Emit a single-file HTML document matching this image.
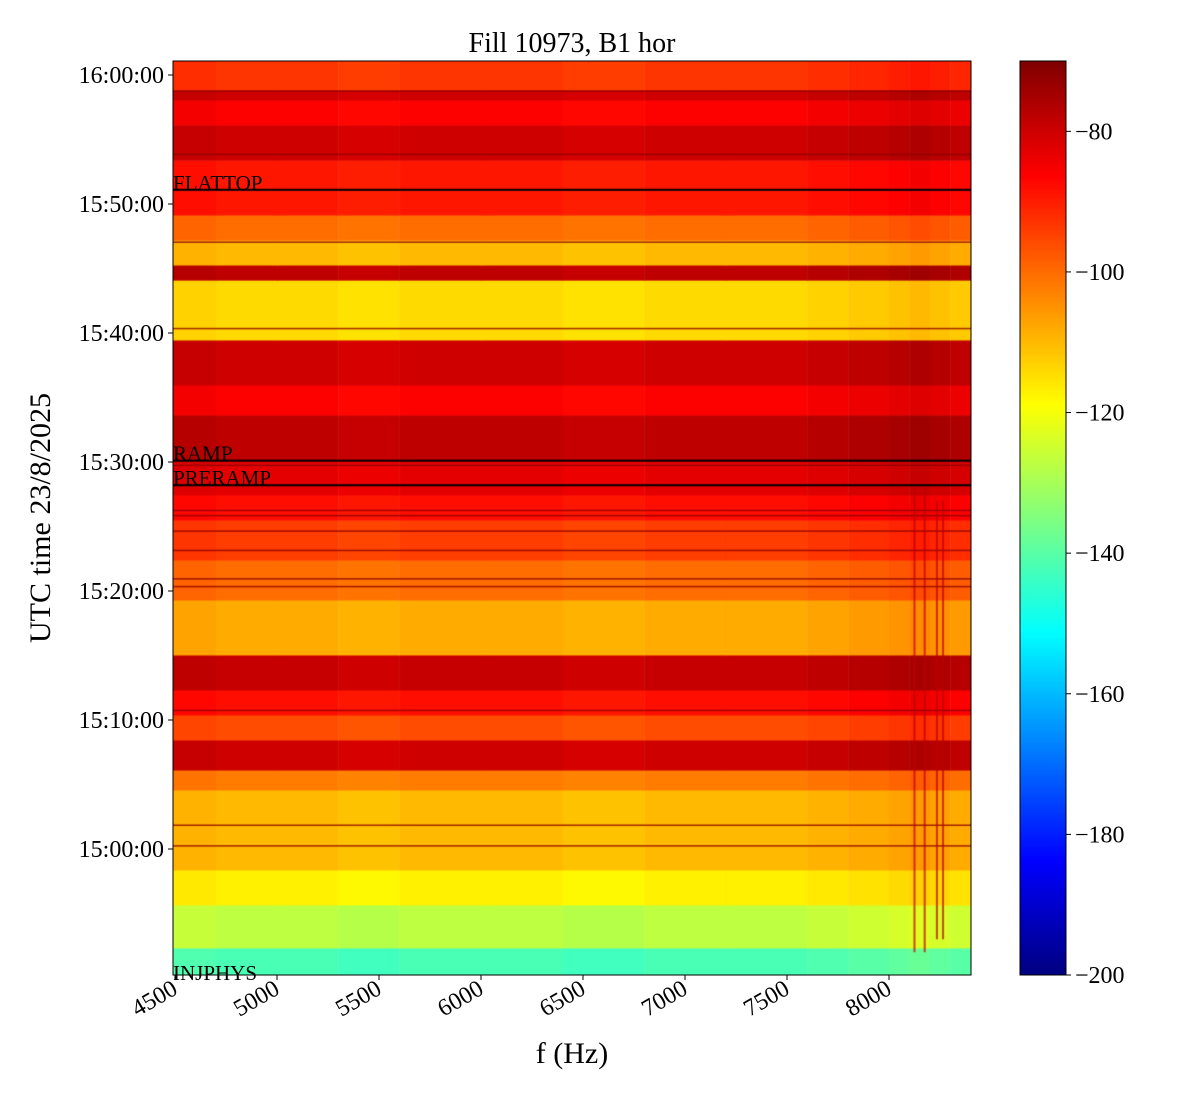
<!DOCTYPE html>
<html><head><meta charset="utf-8"><style>
body{margin:0;background:#fff;}
#wrap{position:relative;width:1200px;height:1100px;font-family:"Liberation Serif",serif;}
canvas{position:absolute;left:0;top:0;}
svg{position:absolute;left:0;top:0;}
</style></head><body>
<div id="wrap">
<canvas id="cv" width="1200" height="1100"></canvas>
<svg id="sv" width="1200" height="1100"></svg>
</div>
<script>
// ---- data ----
// bands: start/end time (minutes relative to 15:00:00) and level in dB
const bandStart = [-9.77,-7.67,-4.34,-1.63,4.57,6.12,8.45,10.39,12.33,15.04,19.3,22.4,25.5,27.44,30.16,33.64,35.97,39.46,44.1,45.27,47.2,49.15,53.4,56.12,58.06,58.84];
const bandEnd   = [-7.67,-4.34,-1.63,4.57,6.12,8.45,10.39,12.33,15.04,19.3,22.4,25.5,27.44,30.16,33.64,35.97,39.46,44.1,45.27,47.2,49.15,53.4,56.12,58.06,58.84,61.1];
const bandLevel = [-142,-127,-117,-110,-102,-80,-96,-88,-79,-108,-100,-94,-88,-83,-78,-86,-80,-114,-78,-110,-100,-89,-80,-86,-80,-93];
// column frequency segments (Hz) and offsets (dB)
const colFreq   = [4490,4700,5000,5300,5600,6000,6400,6800,7200,7600,7800,8000,8100,8200,8300,8402];
const colOffset = [1,0,0,-1,0,0,-1,0,0,1,2,3,4,3,2];
// marker lines (minutes) and labels
const markerTime  = [-9.7,28.2,30.1,51.1];
const markerLabel = ["INJPHYS","PRERAMP","RAMP","FLATTOP"];
// extra thin dark horizontal lines (minutes)
const lineTime = [0.3,1.9,10.8,20.4,21.0,23.2,24.7,25.9,26.3,29.8,40.4,47.1,53.9,58.8];
// vertical spectral lines (Hz, start min, end min)
const vFreq  = [8120,8170,8230,8260];
const vStart = [-8,-8,-7,-7];
const vEnd   = [28,28,27,27];
const xTicks = [4500,5000,5500,6000,6500,7000,7500,8000];
const yTicks = [0,10,20,30,40,50,60];
const yTickLabels = ["15:00:00","15:10:00","15:20:00","15:30:00","15:40:00","15:50:00","16:00:00"];
const cTicks = [-80,-100,-120,-140,-160,-180,-200];
// ---- axes ----
const X0=173,X1=971,Y0=61,Y1=975;
const xs = f => 175 + (f-4500)*102/500;
const ys = t => 849 - t*12.9;
const vmin=-200, vmax=-70;
function jet(v){
  let t=Math.max(0,Math.min(1,(v-vmin)/(vmax-vmin)));
  const c=x=>Math.round(255*Math.max(0,Math.min(1,1.5-Math.abs(4*t-x))));
  return `rgb(${c(3)},${c(2)},${c(1)})`;
}
const cv=document.getElementById('cv').getContext('2d');
cv.save();cv.beginPath();cv.rect(X0,Y0,X1-X0,Y1-Y0);cv.clip();
for(let b=0;b<bandLevel.length;b++){
  for(let c=0;c<colOffset.length;c++){
    cv.fillStyle=jet(bandLevel[b]+colOffset[c]);
    const x0=xs(colFreq[c]),x1=xs(colFreq[c+1]);
    const y0=ys(bandEnd[b]),y1=ys(bandStart[b]);
    cv.fillRect(x0,y0,x1-x0+0.5,y1-y0+0.5);
  }
}
cv.fillStyle='rgba(140,0,0,0.8)';
lineTime.forEach(t=>cv.fillRect(X0,ys(t),X1-X0,1.5));
cv.fillStyle='rgba(190,0,0,0.7)';
vFreq.forEach((f,i)=>cv.fillRect(xs(f),ys(vEnd[i]),2,ys(vStart[i])-ys(vEnd[i])));
cv.fillStyle='#000';
markerTime.forEach((t,i)=>{ if(i>0) cv.fillRect(X0,ys(t)-1,X1-X0,2); });
cv.restore();
// colorbar
const CX=1020,CW=46;
for(let y=Y0;y<Y1;y++){
  const v=vmin+(Y1-y)/(Y1-Y0)*(vmax-vmin);
  cv.fillStyle=jet(v);cv.fillRect(CX,y,CW,1);
}
const NS='http://www.w3.org/2000/svg';
const sv=document.getElementById('sv');
function el(tag,attrs,name,txt){
  const e=document.createElementNS(NS,tag);
  for(const k in attrs)e.setAttribute(k,attrs[k]);
  
  
  if(txt!==undefined)e.textContent=txt;
  sv.appendChild(e);return e;
}
el('rect',{x:X0,y:Y0,width:X1-X0,height:Y1-Y0,fill:'none',stroke:'#000','stroke-width':1},'plot-frame');
el('rect',{x:CX,y:Y0,width:CW,height:Y1-Y0,fill:'none',stroke:'#000','stroke-width':1},'colorbar-frame');
xTicks.forEach(f=>{
  const x=xs(f);
  el('line',{x1:x,x2:x,y1:Y1,y2:Y1+5,stroke:'#000'},'x-tick');
  el('text',{x:x+4,y:Y1+18,'font-size':24,'text-anchor':'end',transform:`rotate(-30 ${x+4} ${Y1+18})`,'font-family':'Liberation Serif, serif'},'x-tick-label',String(f));
});
yTicks.forEach((t,i)=>{
  const y=ys(t);
  el('line',{x1:X0-5,x2:X0,y1:y,y2:y,stroke:'#000'},'y-tick');
  el('text',{x:X0-9,y:y+8,'font-size':24,'text-anchor':'end','font-family':'Liberation Serif, serif'},'y-tick-label',yTickLabels[i]);
});
cTicks.forEach(v=>{
  const y=Y1-(v-vmin)/(vmax-vmin)*(Y1-Y0);
  el('line',{x1:CX+CW,x2:CX+CW+5,y1:y,y2:y,stroke:'#000'},'colorbar-tick');
  el('text',{x:CX+CW+9,y:y+8,'font-size':24,'font-family':'Liberation Serif, serif'},'colorbar-tick-label','\u2212'+Math.abs(v));
});
markerTime.forEach((t,i)=>{
  el('text',{x:X0,y:ys(t)+(i===0?6:0),'font-size':21,'font-family':'Liberation Serif, serif'},'phase-label',markerLabel[i]);
});
el('text',{x:572,y:52,'font-size':28,'text-anchor':'middle','font-family':'Liberation Serif, serif'},'chart-title','Fill 10973, B1 hor');
el('text',{x:572,y:1063,'font-size':30,'text-anchor':'middle','font-family':'Liberation Serif, serif'},'x-axis-title','f (Hz)');
el('text',{x:50,y:518,'font-size':30,'text-anchor':'middle',transform:'rotate(-90 50 518)','font-family':'Liberation Serif, serif'},'y-axis-title','UTC time 23/8/2025');
</script>
</body></html>
